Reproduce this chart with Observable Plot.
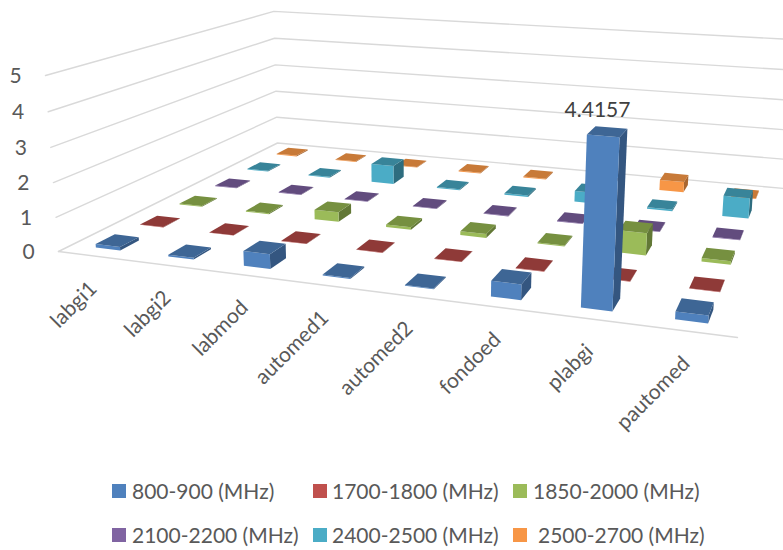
<!DOCTYPE html>
<html><head><meta charset="utf-8">
<script src="https://cdn.jsdelivr.net/npm/d3@7"></script>
<script src="https://cdn.jsdelivr.net/npm/@observablehq/plot@0.6"></script>
<style>
html,body{margin:0;padding:0;background:#fff;overflow:hidden;width:783px;height:550px}
#legend{position:relative;width:783px;height:81px;font:21px Lato,sans-serif;color:#595959}
.it{position:absolute;white-space:nowrap;line-height:20px}
.sw{position:absolute;width:14px;height:14px}
</style></head><body><div id="chart"></div><div id="legend"></div>
<script>
const categories=["labgi1","labgi2","labmod","automed1","automed2","fondoed","plabgi","pautomed"];
const seriesNames=["800-900 (MHz)","1700-1800 (MHz)","1850-2000 (MHz)","2100-2200 (MHz)","2400-2500 (MHz)"," 2500-2700 (MHz)"];
const s800 =[0.10,0.05,0.42,0.03,0.02,0.42,4.4157,0.20];
const s1700=[0.01,0.01,0.01,0.01,0.01,0.01,0.01,0.01];
const s1850=[0.03,0.03,0.30,0.08,0.12,0.03,0.65,0.10];
const s2100=[0.02,0.02,0.02,0.02,0.02,0.02,0.02,0.02];
const s2400=[0.03,0.03,0.62,0.04,0.05,0.35,0.05,0.65];
const s2500=[0.03,0.02,0.02,0.03,0.03,0.03,0.35,0.03];
const values=[s800,s1700,s1850,s2100,s2400,s2500];
const fronts=["#4f81bd","#c0504d","#9bbb59","#8064a2","#4bacc6","#f79646"];
const tops=["#3e6695","#8f3a38","#769040","#624c7e","#388499","#c87a38"];
const sides=["#345680","#7a3230","#627836","#523f69","#2e6d7f","#a96630"];
const yTicks=[0,1,2,3,4,5];
const W=783,H=469,nU=categories.length,nV=values.length;
// camera of the 3D chart: floor corners and vertical vanishing point
const FL=[58,251],FR=[737,337],BL=[277,142.5],BR=[784,188],VP=[415,5089],zk=-0.00702;
function homography(){
  const [x0,y0]=FL,[x1,y1]=FR,[x2,y2]=BR,[x3,y3]=BL;
  const dx1=x1-x2,dx2=x3-x2,sx=x0-x1+x2-x3,dy1=y1-y2,dy2=y3-y2,sy=y0-y1+y2-y3;
  const den=dx1*dy2-dx2*dy1,g=(sx*dy2-dx2*sy)/den,h=(dx1*sy-sx*dy1)/den;
  return {a:x1-x0+g*x1,b:x3-x0+h*x3,c:x0,d:y1-y0+g*y1,e:y3-y0+h*y3,f:y0,g,h};
}
const M=homography();
function project(u,v,z){
  const s=u/nU,t=v/nV,k=z*zk;
  const w=M.g*s+M.h*t+1+k;
  return [(M.a*s+M.b*t+M.c+k*VP[0])/w,(M.d*s+M.e*t+M.f+k*VP[1])/w];
}
const barW=0.34,barD=0.42;
const faces=[];let fid=0;
function addFace(color,pts){const id=fid++;for(const p of pts){const [x,y]=project(...p);faces.push({id,color,x,y});}}
for(let j=nV-1;j>=0;j--)for(let i=0;i<nU;i++){
  const z=values[j][i],u0=i+.5-barW/2,u1=i+.5+barW/2,v0=j+.5-barD/2,v1=j+.5+barD/2;
  addFace(sides[j],[[u1,v0,0],[u1,v1,0],[u1,v1,z],[u1,v0,z]]);
  addFace(fronts[j],[[u0,v0,0],[u1,v0,0],[u1,v0,z],[u0,v0,z]]);
  addFace(tops[j],[[u0,v0,z],[u1,v0,z],[u1,v1,z],[u0,v1,z]]);
}
const grid=[];
for(const k of yTicks){[[0,0],[0,nV],[nU,nV]].forEach(([u,v])=>{const [x,y]=project(u,v,k);grid.push({k,x,y});});}
[[0,0],[nU,0]].forEach(([u,v])=>{const [x,y]=project(u,v,0);grid.push({k:"front",x,y});});
const yLabels=yTicks.map(k=>{const [x,y]=project(0,0,k);return {k,x,y};});
const xLabels=categories.map((c,i)=>{const [x,y]=project(i+.5,0,0);return {c,x,y};});
const peak=(()=>{const [x,y]=project(6.5,barD/2+.0,4.4157);return {x,y,t:"4.4157"};})();
const font="Lato,sans-serif";
const plot=Plot.plot({width:W,height:H,margin:0,
  x:{domain:[0,W],range:[0,W],axis:null},y:{domain:[0,H],range:[0,H],axis:null},
  color:{type:"identity"},
  style:{background:"#fff",fontFamily:font},
  marks:[
    Plot.line(grid,{x:"x",y:"y",z:"k",stroke:"#d9d9d9",strokeWidth:1.4,curve:"linear"}),
    Plot.line(faces,{x:"x",y:"y",z:"id",fill:"color",stroke:null,curve:"linear"}),
    Plot.text(yLabels,{x:"x",y:"y",text:"k",dx:-30,dy:1,fontSize:21,fill:"#595959",fontFamily:font}),
    Plot.text(xLabels,{x:"x",y:"y",text:"c",rotate:-45,textAnchor:"end",dx:-1,dy:29,fontSize:21,fill:"#595959",fontFamily:font}),
    Plot.text([peak],{x:"x",y:"y",text:"t",dx:-4,dy:-27,fontSize:21,fill:"#404040",fontFamily:font})
  ]});
document.getElementById("chart").appendChild(plot);
const legend=d3.select("#legend");
const cols=[112,313,513],texts=[132,332,533];
seriesNames.forEach((n,i)=>{
  const c=i%3,r=Math.floor(i/3),top=12+r*44;
  legend.append("div").attr("class","sw").style("left",cols[c]+"px").style("top",(top+3)+"px").style("background",fronts[i]);
  legend.append("div").attr("class","it").style("left",texts[c]+(n.startsWith(" ")?5:0)+"px").style("top",top+"px").text(n.trim());
});
</script></body></html>
